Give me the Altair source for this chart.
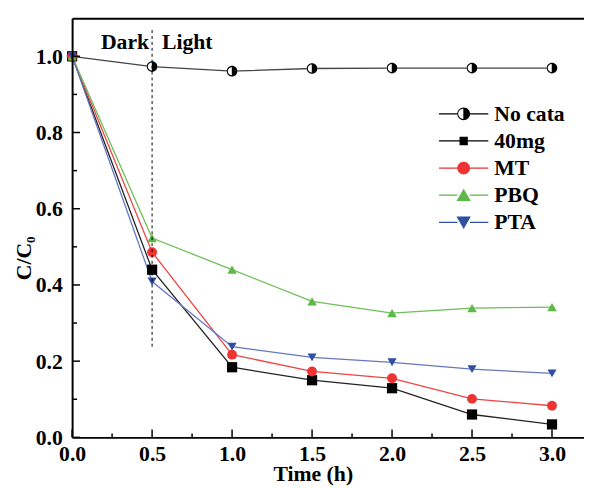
import altair as alt
import pandas as pd

# ---------------- data ----------------
times = [0.0, 0.5, 1.0, 1.5, 2.0, 2.5, 3.0]
series_names = ["No cata", "40mg", "MT", "PBQ", "PTA"]
no_cata = [1.0, 0.973, 0.961, 0.968, 0.969, 0.969, 0.969]
mg40 = [1.0, 0.440, 0.184, 0.150, 0.129, 0.060, 0.034]
mt = [1.0, 0.486, 0.217, 0.173, 0.155, 0.101, 0.083]
pbq = [1.0, 0.523, 0.440, 0.357, 0.326, 0.339, 0.342]
pta = [1.0, 0.409, 0.238, 0.210, 0.197, 0.179, 0.168]

marker_colors = ["#000000", "#000000", "#ee3333", "#5cb946", "#2f4fa3"]
line_colors = ["#444444", "#222222", "#ee4444", "#6cc055", "#6677c0"]

x_ticks_major = [0.0, 0.5, 1.0, 1.5, 2.0, 2.5, 3.0]
x_ticks_minor = [0.25, 0.75, 1.25, 1.75, 2.25, 2.75]
y_ticks_major = [0.0, 0.2, 0.4, 0.6, 0.8, 1.0]
y_ticks_minor = [0.1, 0.3, 0.5, 0.7, 0.9]

boundary_t = [0.5]
boundary_lo = [0.238]
boundary_hi = [1.07]
phase_labels = ["Dark", "Light"]
phase_y = [1.019, 1.019]

values = [no_cata, mg40, mt, pbq, pta]
rows = []
for name, vals in zip(series_names, values):
    for t, v in zip(times, vals):
        rows.append({"series": name, "t": t, "c": v})
df = pd.DataFrame(rows)

W, H = 519, 425
FONT = "Liberation Serif"

xscale = alt.Scale(domain=[0, 3.2], nice=False, zero=False)
yscale = alt.Scale(domain=[0, 1.1], nice=False, zero=False)

# ---------------- shapes ----------------
half_circle_plot = ("M0,-1A1,1 0 1,1 0,1A1,1 0 1,1 0,-1Z"
                    "M-0.05,-0.76A0.76,0.76 0 0,0 -0.05,0.76Z")
plot_shapes = [half_circle_plot, "square", "circle", "triangle-up", "triangle-down"]

# legend symbols (7 px per unit at size 196): marker + line segments
def seg(r):
    L = 3.57
    h = 0.09
    return (f"M-{L},-{h}L-{r},-{h}L-{r},{h}L-{L},{h}Z"
            f"M{r},-{h}L{L},-{h}L{L},{h}L{r},{h}Z")

leg_no = (seg(0.93) + "M0,-0.93A0.93,0.93 0 1,1 0,0.93A0.93,0.93 0 1,1 0,-0.93Z"
          "M-0.05,-0.74A0.74,0.74 0 0,0 -0.05,0.74Z")
leg_sq = seg(0.6) + "M-0.6,-0.6L0.6,-0.6L0.6,0.6L-0.6,0.6Z"
leg_ci = seg(0.93) + "M-0.93,0A0.93,0.93 0 1,0 0.93,0A0.93,0.93 0 1,0 -0.93,0Z"
leg_tu = seg(0.9) + "M0,-0.95L1.04,0.85L-1.04,0.85Z"
leg_td = seg(0.9) + "M0,0.95L1.04,-0.85L-1.04,-0.85Z"
legend_shapes = [leg_no, leg_sq, leg_ci, leg_tu, leg_td]

marker_scale = alt.Scale(domain=series_names, range=marker_colors)
line_scale = alt.Scale(domain=series_names, range=line_colors)

x_label_axis = alt.Axis(orient="bottom", values=x_ticks_major, format=".1f", ticks=False,
                        tickSize=0, domain=True, domainColor="black", domainWidth=2, zindex=1,
                        grid=False, labelFont=FONT, labelFontSize=22, labelFontWeight="bold",
                        labelColor="black", labelPadding=6, labelFlush=False,
                        title="Time (h)", titleFont=FONT, titleFontSize=22,
                        titleFontWeight="bold", titleColor="black", titleX=244, titleY=44,
                        titleAlign="center", titleBaseline="alphabetic")
y_label_axis = alt.Axis(orient="left", values=y_ticks_major, format=".1f", ticks=False,
                        tickSize=0, domain=True, domainColor="black", domainWidth=2, zindex=1,
                        grid=False, labelFont=FONT, labelFontSize=22, labelFontWeight="bold",
                        labelColor="black", labelPadding=10, labelFlush=False,
                        title="C/C\u2080", titleFont=FONT, titleFontSize=22,
                        titleFontWeight="bold", titleColor="black", titleX=-49, titleY=243,
                        titleAngle=270, titleAlign="center", titleBaseline="middle")
x_top_axis = alt.Axis(orient="top", values=x_ticks_major, labels=False, ticks=False,
                      domain=True, domainColor="black", domainWidth=2, grid=False,
                      zindex=1, title=None)


# inward tick marks, placed on the shared scales at the axis tick values
def x_ticks_layer(vals, length):
    return alt.Chart(pd.DataFrame({"v": vals})).mark_rule(color="black", strokeWidth=1.5).encode(
        x=alt.X("v:Q", scale=xscale, axis=None),
        y=alt.value(H),
        y2=alt.value(H - length),
    )


def y_ticks_layer(vals, length):
    return alt.Chart(pd.DataFrame({"v": vals})).mark_rule(color="black", strokeWidth=1.5).encode(
        y=alt.Y("v:Q", scale=yscale, axis=None),
        x=alt.value(0),
        x2=alt.value(length),
    )


base = alt.Chart(df)

lines = base.mark_line(strokeWidth=1.3).encode(
    x=alt.X("t:Q", scale=xscale, axis=x_label_axis),
    y=alt.Y("c:Q", scale=yscale, axis=y_label_axis),
    color=alt.Color("series:N", scale=line_scale, legend=None),
    detail="series:N",
)

white_under = base.transform_filter(alt.datum.series == "No cata").mark_point(
    filled=True, shape="circle", color="white", opacity=1, size=115
).encode(
    x=alt.X("t:Q", scale=xscale, axis=None),
    y=alt.Y("c:Q", scale=yscale, axis=None),
)

points = base.mark_point(filled=True, opacity=1).encode(
    x=alt.X("t:Q", scale=xscale, axis=None),
    y=alt.Y("c:Q", scale=yscale, axis=None),
    color=alt.Color("series:N", scale=marker_scale, legend=None),
    shape=alt.Shape("series:N", scale=alt.Scale(domain=series_names, range=plot_shapes), legend=None),
    size=alt.Size("series:N", scale=alt.Scale(domain=series_names, range=[115, 85, 135, 160, 160]), legend=None),
)

bdf = pd.DataFrame({"t": boundary_t, "lo": boundary_lo, "hi": boundary_hi})
rule = alt.Chart(bdf).mark_rule(color="black", strokeWidth=1, strokeDash=[3, 3]).encode(
    x=alt.X("t:Q", scale=xscale, axis=x_top_axis),
    y=alt.Y("lo:Q", scale=yscale, axis=None),
    y2="hi:Q",
)

pdf = pd.DataFrame({"t": boundary_t * 2, "y": phase_y, "label": phase_labels})
dark = alt.Chart(pdf).transform_filter(alt.datum.label == "Dark").mark_text(
    align="right", baseline="alphabetic", dx=-3, font=FONT, fontSize=22, fontWeight="bold", color="black"
).encode(
    x=alt.X("t:Q", scale=xscale, axis=None),
    y=alt.Y("y:Q", scale=yscale, axis=None),
    text="label:N",
)
light = alt.Chart(pdf).transform_filter(alt.datum.label == "Light").mark_text(
    align="left", baseline="alphabetic", dx=10, font=FONT, fontSize=22, fontWeight="bold", color="black"
).encode(
    x=alt.X("t:Q", scale=xscale, axis=None),
    y=alt.Y("y:Q", scale=yscale, axis=None),
    text="label:N",
)


def legend_spec():
    return alt.Legend(title=None, orient="none", legendX=386, legendY=86,
                      symbolSize=196, symbolOpacity=1, symbolStrokeWidth=0,
                      labelFont=FONT, labelFontSize=22, labelFontWeight="bold",
                      labelColor="black", labelOffset=20, rowPadding=5.5,
                      padding=0, symbolOffset=0)


legend_layer = base.transform_filter("datum.t < -1").mark_point(
    filled=True, opacity=1, size=196
).encode(
    x=alt.X("t:Q", scale=xscale, axis=None),
    y=alt.Y("c:Q", scale=yscale, axis=None),
    color=alt.Color("series:N", scale=alt.Scale(domain=series_names, range=marker_colors),
                    legend=legend_spec()),
    shape=alt.Shape("series:N", scale=alt.Scale(domain=series_names, range=legend_shapes),
                    legend=legend_spec()),
)

chart = alt.layer(
    lines, white_under, points, rule, dark, light, legend_layer,
    x_ticks_layer(x_ticks_major, 8), x_ticks_layer(x_ticks_minor, 4),
    y_ticks_layer(y_ticks_major, 8), y_ticks_layer(y_ticks_minor, 5),
).resolve_axis(
    x="independent", y="independent"
).resolve_scale(
    color="independent", shape="independent", size="independent"
).properties(
    width=W, height=H,
    autosize=alt.AutoSizeParams(type="none"),
    padding={"left": 65, "top": 7, "right": 0, "bottom": 48},
    background="white",
).configure_view(stroke=None)

chart.save("out.html", embed_options={"renderer": "svg", "actions": False})
